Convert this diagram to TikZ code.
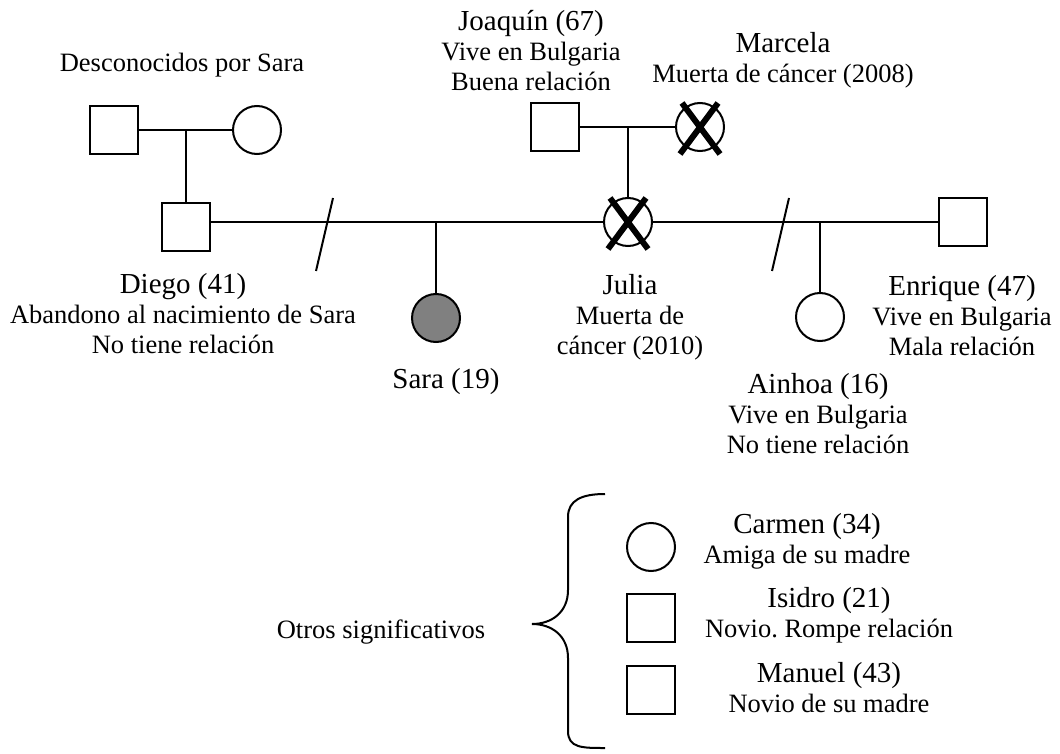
\documentclass[tikz,border=0pt]{standalone}
\usepackage{fontspec}
\setmainfont{Liberation Serif}
\usetikzlibrary{positioning, calc}

\newcommand{\pname}[1]{{\fontsize{29}{32}\selectfont #1}}

\begin{document}
\begin{tikzpicture}[
  x=1pt, y=-1pt,
  every node/.style={font=\fontsize{26.5}{30}\selectfont},
  male/.style={rectangle, draw, line width=2pt, minimum size=48pt, inner sep=0pt},
  female/.style={circle, draw, line width=2pt, minimum size=48pt, inner sep=0pt},
  index/.style={female, fill=gray},
  lbl/.style={align=center, inner sep=0pt},
  ln/.style={line width=2pt},
  xmark/.style={line width=6pt},
]
\useasboundingbox (0,0) rectangle (1060,754);

\node[male]   (uf) at (114,130) {};
\node[female] (um) at (257,130) {};
\node[male]   (D)  at (186,227) {};
\node[male]   (Jq) at (555,127) {};
\node[female] (Mc) at (700,127) {};
\node[female] (J)  at (628,222) {};
\node[male]   (E)  at (963,222) {};
\node[index]  (S)  at (436,318) {};
\node[female] (A)  at (820,317) {};

\coordinate (uc) at (186,130);
\coordinate (jc) at (628,127);
\coordinate (sc) at (436,222);
\coordinate (ac) at (820,222);

\draw[ln] (uf) -- (um);
\draw[ln] (uc) -- (D);
\draw[ln] (Jq) -- (Mc);
\draw[ln] (jc) -- (J);
\draw[ln] (D.east |- J) -- (J);
\draw[ln] (J) -- (E);
\draw[ln] (sc) -- (S);
\draw[ln] (ac) -- (A);
\draw[ln] (333,198) -- (316,271);
\draw[ln] (789,198) -- (772,271);

\foreach \p in {J,Mc}{
  \draw[xmark] ($(\p)+(-18,-24)$) -- ($(\p)+(20,27)$);
  \draw[xmark] ($(\p)+(18,-24)$) -- ($(\p)+(-20,27)$);
}

\node[lbl] (tU)  at (182,65)  {Desconocidos por Sara};
\node[lbl] (tJq) at (531,51)  {\pname{Joaquín (67)}\\Vive en Bulgaria\\Buena relación};
\node[lbl] (tMc) at (783,60)  {\pname{Marcela}\\Muerta de cáncer (2008)};
\node[lbl] (tD)  at (183,314) {\pname{Diego (41)}\\Abandono al nacimiento de Sara\\No tiene relación};
\node[lbl] (tJ)  at (630,317) {\pname{Julia}\\Muerta de\\cáncer (2010)};
\node[lbl] (tE)  at (962,316) {\pname{Enrique (47)}\\Vive en Bulgaria\\Mala relación};
\node[lbl] (tS)  at (446,382) {\pname{Sara (19)}};
\node[lbl] (tA)  at (818,414) {\pname{Ainhoa (16)}\\Vive en Bulgaria\\No tiene relación};

\node[female] (C) at (651,547) {};
\node[male]   (I) at (651,618) {};
\node[male]   (M) at (651,690) {};

\node[lbl] (tC) at (807,541) {\pname{Carmen (34)}\\Amiga de su madre};
\node[lbl] (tI) at (829,615) {\pname{Isidro (21)}\\Novio.\ Rompe relación};
\node[lbl] (tM) at (829,688) {\pname{Manuel (43)}\\Novio de su madre};
\node[lbl] (tO) at (381,632) {Otros significativos};

\draw[ln] (605,494) .. controls (582,494) and (568,500) .. (568,517) -- (568,590)
  .. controls (568,612) and (552,624) .. (532,624)
  .. controls (552,624) and (568,636) .. (568,658) -- (568,731)
  .. controls (568,748) and (582,748) .. (605,748);
\end{tikzpicture}
\end{document}
